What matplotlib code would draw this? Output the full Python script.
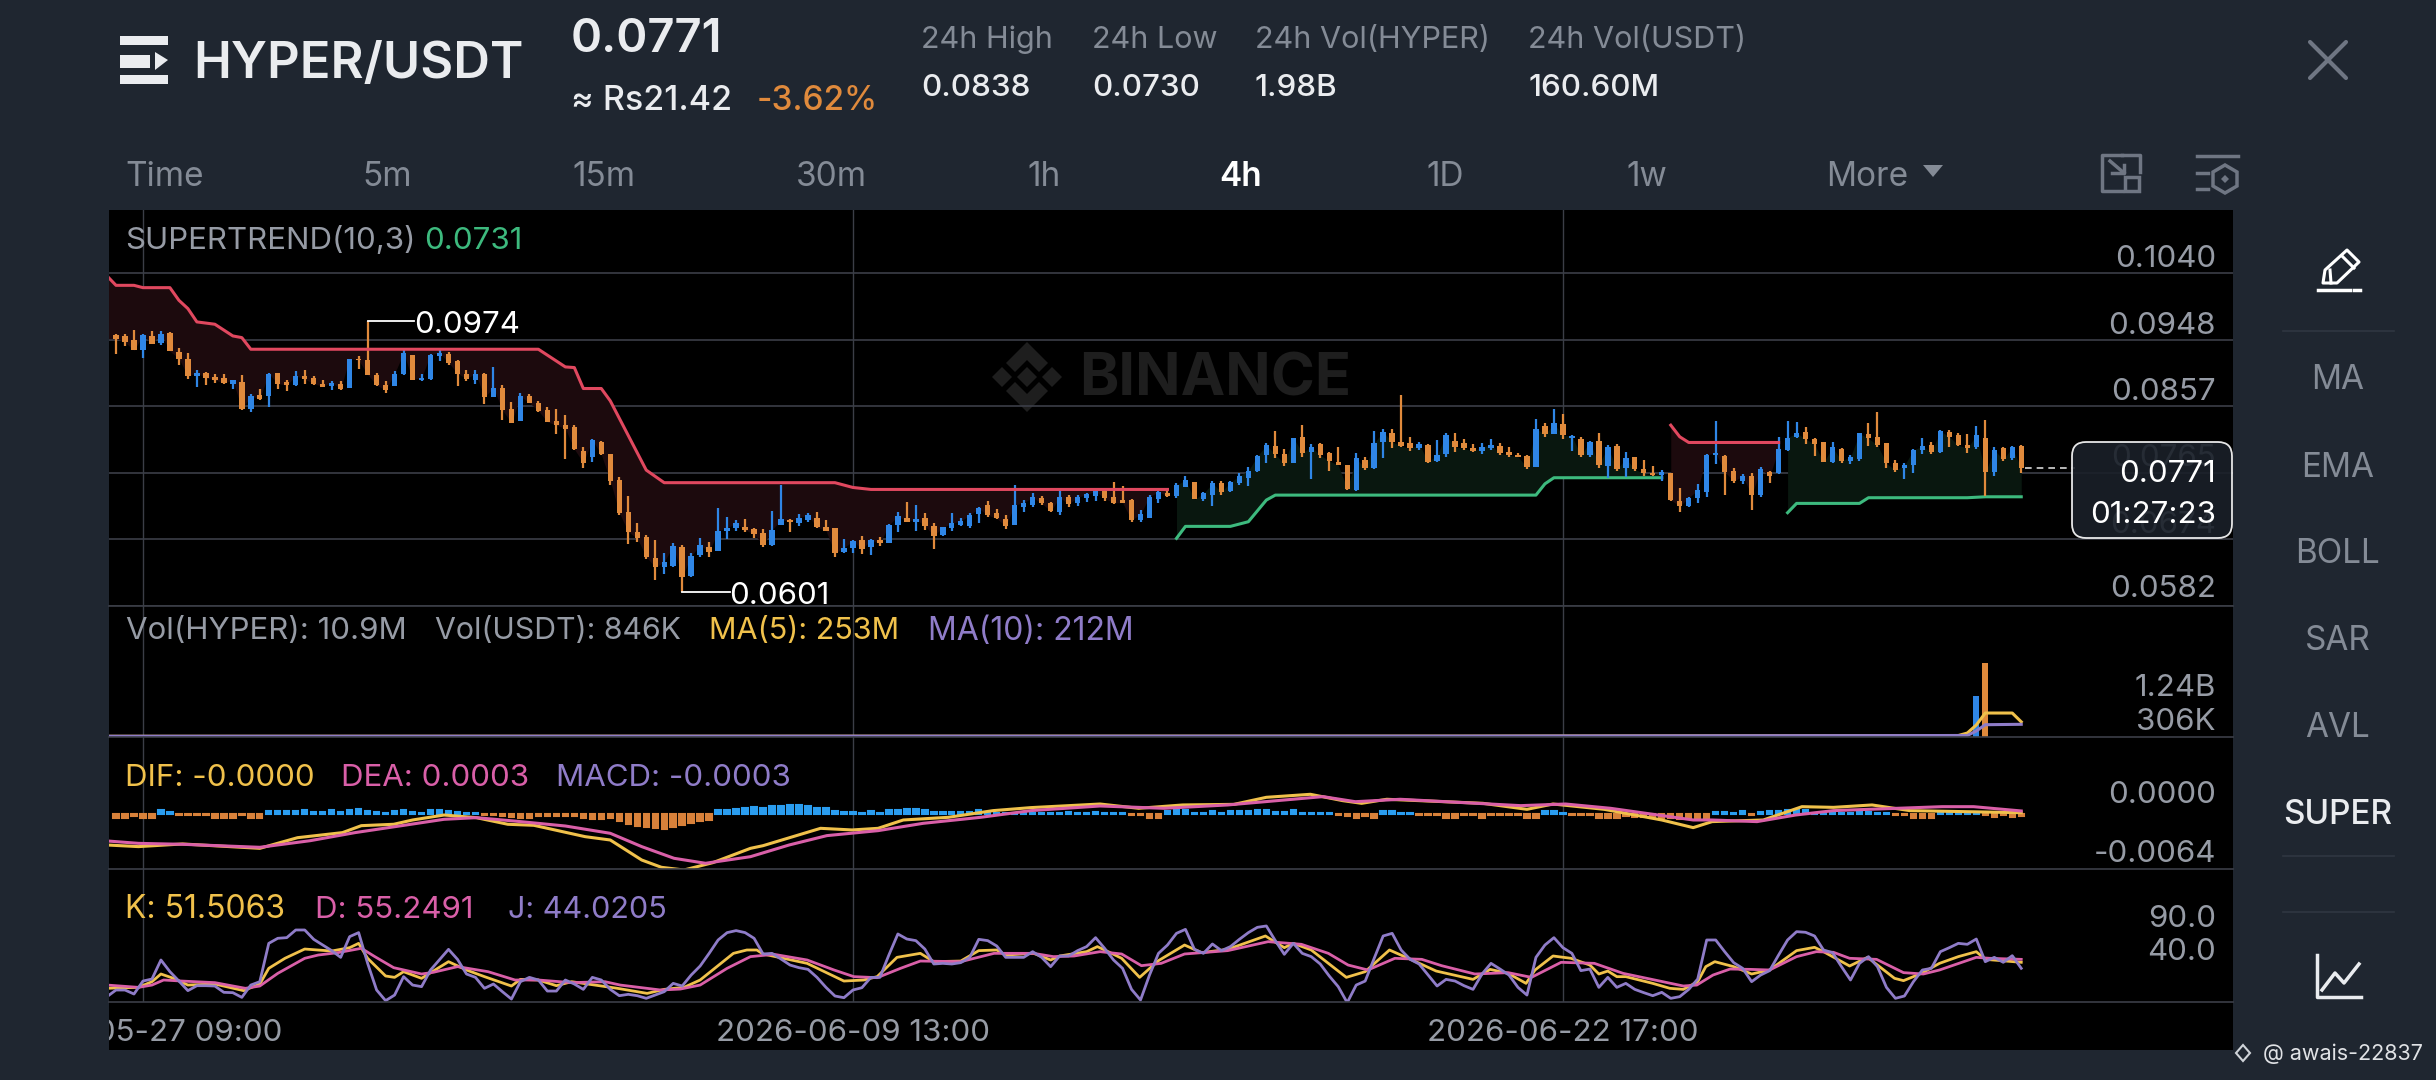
import matplotlib
matplotlib.use("Agg")
import matplotlib.pyplot as plt
from matplotlib.patches import FancyBboxPatch, Polygon, Rectangle
import numpy as np

plt.rcParams['font.family'] = ['Inter', 'DejaVu Sans']

# prices are in units of 0.0001
high = [955.7,955.7,962.1,955.7,960.3,960.3,958.9,937.4,930.1,906.3,
        904.0,901.7,901.7,893.4,900.3,874.2,881.1,902.6,903.0,892.5,
        905.4,906.3,898.0,893.4,891.1,891.6,922.3,926.0,974.0,903.0,
        891.6,904.9,933.7,927.8,901.7,929.2,933.7,931.4,920.0,906.3,
        906.3,903.0,910.8,885.7,862.8,875.1,874.2,864.1,855.9,853.6,
        844.4,830.7,800.9,811.0,808.7,790.8,758.8,733.6,696.5,679.6,
        672.7,654.4,668.1,665.8,655.3,675.0,670.4,716.2,704.7,700.2,
        701.5,688.7,687.3,712.5,748.3,701.1,707.9,710.2,710.7,700.2,
        689.6,674.1,672.7,678.2,674.1,676.3,694.2,711.6,724.4,720.8,
        709.3,696.5,691.0,709.3,702.4,709.3,718.5,726.3,715.3,707.0,
        748.3,727.6,736.8,733.1,725.4,741.4,734.5,734.5,737.7,744.6,
        742.3,752.4,747.3,729.5,713.9,734.5,740.0,741.4,750.5,760.6,
        752.8,739.1,754.2,753.7,754.2,764.3,773.4,789.5,805.5,822.0,
        797.7,813.3,830.7,804.6,805.5,794.1,800.9,775.7,792.7,786.3,
        822.9,826.1,826.1,871.9,814.7,807.8,804.2,810.1,820.2,820.2,
        811.0,804.2,805.5,811.5,805.5,800.9,792.7,789.5,839.0,833.0,
        852.7,845.8,817.0,813.8,808.7,819.3,803.2,804.6,794.1,787.2,
        782.6,774.8,768.9,765.2,744.6,732.2,749.6,790.4,836.2,789.5,
        771.2,763.4,764.3,773.5,768.0,813.8,837.1,834.4,827.5,812.4,
        806.9,807.8,799.6,789.5,819.3,833.0,849.0,806.4,782.6,778.0,
        797.7,812.4,807.8,823.8,823.8,820.6,818.4,829.8,837.6,800.9,
        800.0,801.9,803.2]
body_top = [954.3,953.0,947.5,954.3,953.0,956.6,958.0,931.4,922.3,902.6,
            903.0,897.1,895.7,892.5,890.2,870.5,872.8,901.7,902.1,890.2,
            898.5,898.5,895.7,887.0,889.3,887.9,922.3,922.3,920.0,900.3,
            885.7,901.7,930.1,927.8,896.2,927.8,930.1,929.2,918.6,901.7,
            901.7,900.8,882.0,882.0,852.7,870.5,870.5,861.4,851.3,836.6,
            831.6,827.5,795.4,810.1,806.9,790.4,755.1,711.6,684.1,677.3,
            648.4,642.9,664.4,663.5,650.7,665.8,663.5,685.5,689.6,695.6,
            691.0,687.3,681.8,686.4,701.1,700.2,703.4,707.0,702.4,690.1,
            688.7,662.2,671.3,672.7,672.7,672.7,693.3,705.7,702.4,701.5,
            702.4,691.9,690.1,695.6,698.8,707.0,716.2,720.8,709.3,701.1,
            720.8,724.0,731.3,729.9,723.1,731.3,731.3,731.3,735.4,740.0,
            740.0,731.3,727.6,727.6,708.4,732.2,739.1,737.7,748.3,755.1,
            751.9,736.8,750.5,750.5,751.9,761.1,767.9,788.1,803.2,801.8,
            790.4,813.3,814.7,800.9,804.2,791.8,780.3,775.7,784.9,782.6,
            806.4,821.5,819.3,807.8,806.4,804.6,803.2,789.5,817.0,808.7,
            806.4,798.7,800.9,803.2,801.9,794.1,789.5,788.6,826.1,829.3,
            833.0,832.1,815.6,811.5,807.8,808.7,800.9,801.9,784.9,786.3,
            770.3,765.2,766.6,764.3,726.7,730.9,741.4,789.5,792.7,788.6,
            768.0,760.6,760.6,770.3,765.7,797.3,813.3,820.2,821.5,811.0,
            806.9,800.0,797.7,787.2,819.3,817.9,813.8,805.5,779.0,775.7,
            796.4,801.9,803.2,822.5,821.5,817.0,803.2,817.0,812.4,796.4,
            798.7,800.0,801.9]
body_bottom = [949.8,944.7,933.7,934.7,942.9,943.8,932.4,922.3,898.0,898.0,
               895.7,892.5,888.9,887.9,853.1,853.6,867.3,870.5,887.9,885.7,
               886.6,893.9,887.9,883.8,884.7,881.1,882.0,920.0,900.3,885.7,
               878.8,884.7,900.8,893.4,892.5,894.8,926.4,916.8,901.7,894.8,
               893.4,869.6,869.6,851.3,833.9,836.6,861.4,850.4,835.3,830.7,
               826.1,797.7,778.9,787.2,790.4,754.2,710.2,684.1,675.0,649.8,
               635.1,635.1,636.9,622.3,623.2,652.0,656.6,658.0,685.0,688.7,
               686.4,680.9,665.8,665.8,693.3,697.9,695.6,700.2,690.1,685.5,
               654.4,656.6,661.2,659.9,663.5,668.1,669.0,693.3,697.9,697.9,
               692.4,678.6,679.6,688.7,693.3,691.9,708.4,707.0,702.4,691.9,
               693.3,717.6,720.8,723.1,712.5,711.6,722.1,723.1,729.9,733.1,
               729.9,724.0,724.0,700.2,700.2,703.4,728.6,733.1,733.1,745.9,
               728.6,728.6,734.5,739.1,740.0,750.5,757.4,767.9,789.5,790.4,
               778.0,778.0,792.7,794.1,789.5,781.7,775.7,742.8,741.4,771.2,
               771.2,807.8,807.8,801.9,798.7,798.7,780.3,781.7,790.4,800.9,
               798.7,795.0,795.0,798.7,791.8,789.5,787.2,772.5,773.5,817.9,
               817.9,817.0,813.3,789.5,789.5,775.7,774.4,769.8,771.2,769.8,
               764.3,762.0,762.0,727.7,719.4,719.4,730.9,739.1,789.5,766.6,
               753.8,754.2,734.5,734.5,760.6,764.3,796.4,814.7,811.5,804.6,
               779.4,780.3,781.7,781.7,783.5,812.4,803.2,778.0,768.9,771.2,
               775.7,796.4,793.2,794.1,814.7,803.2,798.7,800.0,765.7,765.7,
               783.5,784.9,771.2]
low = [929.2,939.2,933.7,923.7,942.9,941.5,932.4,913.1,894.8,883.4,
       886.6,889.3,887.9,880.2,852.2,849.0,865.0,855.9,881.1,877.9,
       885.2,887.0,885.7,883.4,878.8,878.8,882.0,907.6,899.4,884.3,
       875.1,884.3,900.3,893.4,891.1,893.4,919.1,913.1,884.7,891.1,
       887.9,859.5,869.6,837.6,833.0,836.6,860.5,849.0,834.4,818.3,
       784.0,797.2,771.2,779.4,789.5,748.3,707.0,667.2,670.4,646.1,
       617.7,626.0,635.1,601.0,622.3,649.8,648.9,658.0,673.6,685.5,
       684.1,675.0,663.5,664.9,693.3,684.1,692.4,697.0,689.6,685.5,
       648.9,655.3,654.4,653.4,652.0,664.4,668.1,684.1,697.0,685.5,
       686.4,660.8,678.6,685.5,692.4,689.6,696.5,704.7,701.1,687.8,
       693.3,711.6,717.6,720.8,711.6,707.0,717.6,719.4,724.4,726.3,
       726.7,722.1,723.1,697.9,697.9,703.4,724.0,732.2,729.9,745.0,
       728.6,726.7,719.8,734.5,739.1,748.3,746.9,766.6,778.0,784.9,
       774.4,778.0,787.2,756.5,784.9,768.0,775.7,741.4,740.5,768.9,
       770.3,784.9,799.6,800.0,795.4,796.4,779.0,779.4,786.3,794.1,
       796.4,793.2,790.9,796.4,789.5,787.2,786.3,769.8,773.5,813.8,
       817.9,811.0,795.0,787.2,786.3,771.2,757.4,768.0,758.8,768.0,
       760.6,760.6,754.2,726.7,711.6,718.5,723.1,731.3,777.1,734.5,
       751.5,749.6,713.9,731.3,750.6,763.4,795.4,813.3,804.6,788.1,
       779.4,779.0,778.0,777.1,781.7,801.9,800.9,772.1,766.6,756.5,
       765.2,790.9,790.9,791.8,800.9,801.9,792.7,797.3,733.2,761.1,
       781.7,782.6,764.3]
# u = blue candle, d = orange candle
side = ("dddududddu" "dddudududd" "udddududdd" "duuduuuddd" "ududdudddd"
        "dddudddddd" "duuduuduuu" "ddduuduudd" "duududuudu" "dduuuuuddd"
        "uuudduduuu" "dddduuuduu" "duuduuuuud" "dududdddud" "uuddduduud"
        "dduuddddud" "ududududud" "ddudduuuud" "dududuuudd" "duduuddddu"
        "uududddudu" "dud")

# supertrend line vertices (candle index, price)
st_red_a_x = [-1, 0, 2, 3, 6, 7, 8, 9, 11, 13, 14, 15, 47, 50, 51, 52, 54, 55, 59, 61, 80, 82, 84, 117]
st_red_a_y = [1035.9, 1023.0, 1023.0, 1019.8, 1019.8, 1002.4, 991.0, 972.7, 969.5, 953.4, 951.1, 935.1,
              935.1, 910.8, 909.9, 881.1, 881.1, 864.1, 768.9, 751.6, 751.6, 745.0, 742.3, 742.3]
st_green_a_x = [118, 119, 124, 126, 128, 129, 158, 159, 160, 172]
st_green_a_y = [675.0, 691.5, 691.5, 697.9, 727.7, 734.5, 734.5, 750.0, 758.4, 758.4]
st_red_b_x = [173, 174, 175, 185]
st_red_b_y = [830.7, 814.7, 806.9, 806.9]
st_green_b_x = [186, 187, 194, 195, 206, 208, 212]
st_green_b_y = [710.3, 723.1, 723.1, 730.9, 730.9, 732.2, 732.2]

price_ticks = [1040, 948, 857, 765, 674, 582]
price_tick_labels = ['0.1040', '0.0948', '0.0857', '0.0765', '0.0674', '0.0582']

# volume in billions
vol_idx = [195, 200, 202, 203, 207, 208]
vol_val = [0.04, 0.04, 0.04, 0.05, 0.68, 1.24]
vol_side = ['d', 'u', 'd', 'u', 'u', 'd']
ma5_x = [-1, 150, 205, 206, 207, 208, 211, 212]
ma5_y = [0.012, 0.015, 0.025, 0.066, 0.2, 0.40, 0.40, 0.253]
ma10_x = [-1, 150, 206, 207, 208, 212]
ma10_y = [0.012, 0.015, 0.025, 0.1, 0.205, 0.212]

# MACD, units of 0.0001
macd_hist = [-3.9,-3.9,-1.6,-4.7,-4.7,5.4,2.3,-1.2,-1.2,-1.2,-1.2,-3.9,-3.9,-3.9,-1.2,-3.9,-3.9,
             3.5,3.5,3.9,4.3,5.0,2.7,3.1,4.7,3.1,5.4,6.2,3.9,2.7,1.9,3.5,5.0,3.1,1.9,4.7,5.4,3.9,2.7,1.9,1.6,
             -1.2,-1.2,-1.6,-3.1,-4.7,-4.7,-1.6,-1.6,-1.6,-1.9,-2.3,-4.7,-5.0,-5.0,-4.7,-7.8,-10.9,-13.2,-14.7,
             -16.3,-17.1,-14.7,-12.4,-10.1,-7.8,-6.2,
             5.4,4.7,5.8,7.8,8.5,7.8,9.3,10.1,10.9,10.9,9.7,7.8,7.8,3.9,3.1,2.3,1.9,3.9,1.9,4.7,5.4,5.8,5.8,4.7,
             2.7,2.3,2.3,2.3,2.7,4.7,3.1,1.6,1.2,
             1.6,1.2,1.2,1.2,1.2,1.2,2.3,1.6,1.6,3.1,
             1.6,1.2,1.2,-1.2,-1.2,-4.7,-4.7,3.9,4.7,4.7,1.6,1.6,3.9,1.6,3.9,3.9,3.9,4.7,5.4,2.3,2.3,5.4,
             1.6,1.6,1.2,1.2,-1.2,-1.6,-3.9,-1.6,-3.9,3.9,3.9,1.2,1.2,-1.2,-1.2,-1.2,-3.9,-3.9,-1.2,-1.2,-3.9,
             -1.2,-1.2,-1.2,-1.2,-3.9,-3.9,3.9,3.9,1.2,-1.2,-1.2,-1.2,-4.7,-4.7,-3.9,
             -1.9,-3.1,-3.1,-3.9,-3.9,-4.7,-5.4,-5.4,-5.4,-4.7,3.1,3.1,1.2,3.9,-1.2,3.1,3.5,3.9,5.4,5.4,4.7,
             1.2,1.2,1.2,1.2,1.2,3.1,3.1,1.2,1.2,-1.2,-1.2,-3.9,-3.9,-3.9,3.1,3.1,1.2,1.2,3.1,
             -1.2,-3.1,-1.2,-3.1,-1.6]
dea_x = [-1, 2.5, 7.4, 16, 21.6, 26.6, 32.3, 36.5, 40.1, 44.3, 50, 55, 58.5, 62.1, 65.6, 70.6, 74.9, 79.1, 84.8, 89.8,
         96.2, 101.8, 109.5, 116.6, 123.7, 134.3, 137.9, 142.9, 156.3, 161.3, 166.3, 175.5, 177.6, 182.6, 186.9, 191.1,
         198.2, 203.2, 206.7, 212]
dea_y = [-31.0, -33.8, -34.9, -38.4, -30.7, -21.3, -12.4, -5.8, -3.9, -7.8, -13.6, -22.1, -37.6, -51.2, -57, -49.3, -35.7,
         -24.8, -19, -10.5, -3.5, 4.3, 9.7, 7, 10.9, 20.6, 14.7, 17.5, 10.1, 12, 7, -6.6, -6.6, -8.5, -0.8, 4.3, 7, 8.9, 8.9, 3.9]
dif_x = [-1, 2.5, 7.4, 16, 20.2, 25.2, 27.3, 30.9, 33, 36.5, 40.1, 43.6, 46.5, 52.2, 55, 58.5, 60.7, 63.2, 66.4, 70.6, 72,
         78.4, 81.9, 84.8, 87.6, 92.6, 97.6, 101.8, 109.5, 113.8, 118.7, 124.4, 128, 132.9, 136.5, 138.6, 141.4, 152.1,
         157, 159.9, 165.6, 172, 175.5, 177.6, 183.3, 187.6, 191.1, 195.4, 199.6, 212]
dif_y = [-35.7, -37.6, -34.5, -39.6, -27.2, -21.3, -13.2, -11.6, -6.6, -0.8, -3.9, -11.6, -12.8, -26, -29.9, -53.2, -61.7,
         -64.8, -56.3, -39.6, -36.5, -16.3, -18.2, -16.3, -6.6, -3.5, 4.3, 7.8, 12, 7, 10.9, 11.6, 19.8, 23.3, 15.9, 12.8,
         17.5, 12.8, 5.8, 12, 5.8, -6.6, -15.5, -8.5, -6.6, 8.9, 8.1, 10.9, 4.3, 1.9]

# KDJ, the first point is the candle just off the left edge
j_line = [8.6,16.9,16.9,11.9,28.1,30.6,54.4,39.8,28.1,16.1,22.3,
          22.3,21.9,14,13.6,7.7,23.1,27.3,75.2,81.5,82.3,
          91.9,91.9,80.2,73.1,66.1,57.7,83.6,88.6,50.2,16.9,
          3.6,10.6,33.6,23.1,21.1,41.9,54.8,67.7,55.2,36.9,
          32.7,19,24.4,14.8,5.6,27.3,32.7,29.4,15.6,15.6,
          29.4,24.4,17.7,32.7,29.4,17.7,9.8,11.5,9.8,6.5,
          10.6,14.8,25.2,21.9,35.6,46.9,62.7,79.4,88.6,91.1,
          88.6,81.5,61.9,62.7,55.6,48.1,44.8,42.7,32.7,20.2,
          9.4,7.3,16.9,19.8,32.7,32.7,60.6,86.9,80.6,78.6,
          68.1,49.4,50.2,49.4,51.1,57.7,80.2,78.6,71.9,57.7,
          57.7,57.7,64.8,57.7,46.1,59.4,59.4,66.1,71.1,82.3,
          69,54.4,44,17.7,4.4,35.6,62.7,73.1,87.7,92.7,
          67.7,62.7,74.4,66.1,71.1,80.2,88.6,95.2,96.9,78.6,
          61.5,75.2,62.7,58.6,49.4,34.4,21.1,1.1,23.1,28.1,
          56.5,84.4,87.7,66.9,55.2,49.4,35.6,21.9,30.2,28.1,
          22.3,17.7,36.9,50.2,43.1,35.6,20.2,10.6,57.7,73.1,
          82.3,69.8,62.7,41.1,43.1,20.2,32.7,20.2,25.2,17.7,
          13.6,9.8,14,6.5,8.6,17.7,30.6,79.4,79.4,64.8,
          51.1,44,27.3,35.6,41.1,60.6,79.4,89.8,89,84.4,
          66.9,63.6,46.1,29.4,50.2,58.6,46.1,20.2,6.5,9.4,
          27.3,41.9,44,64.8,69.8,75.2,74,80.6,52.3,57.7,
          51.5,59.8,44.0]
k_x = [-1, 0, 2.5, 4, 5, 6.4, 8, 11, 14.2, 16, 17, 18.8, 21, 24, 26, 27, 28, 30, 31, 32, 34, 37, 39, 41, 44, 45, 47, 49, 50.7,
       55.8, 59.1, 61, 63.2, 65, 68.7, 70.2, 71.3, 72, 76.9, 81, 83.2, 84.7, 86.9, 89.5, 91, 94, 96, 98, 99, 102.1, 104, 105,
       108, 109.2, 110.4, 111.9, 113.9, 116, 118.9, 120.8, 123.7, 127.9, 128.9, 130, 131, 133, 136.9, 139, 141.7, 143.8,
       146.9, 151, 152.9, 154.9, 156.9, 157.9, 159.9, 161.9, 164, 165, 166, 167, 168, 171, 172.9, 174.4, 176, 176.9, 177.9,
       180, 182, 184, 187, 189, 190, 192.9, 194.9, 197.9, 198.9, 200.9, 202.9, 205, 207, 208, 212]
k_y = [19, 19.5, 20.2, 27.3, 36.9, 31.5, 23.1, 24.4, 16.1, 24.4, 44, 56.5, 68.1, 65.6, 69.8, 75.2, 56.5, 34.4, 32.7, 39.8, 31.5,
       52.3, 41.9, 33.6, 21.9, 30.2, 29.4, 22.3, 27.3, 19, 12.7, 17.7, 20.2, 29.4, 62.7, 66.9, 66.9, 61.9, 50.2, 28.1, 29.4,
       33.6, 57.7, 62.7, 52.3, 53.1, 66.1, 66.9, 60.6, 62.7, 54.4, 59.4, 64.8, 71.1, 64.8, 56.5, 32.7, 53.6, 73.1, 63.6, 67.7,
       84.4, 77.3, 69.8, 75.2, 66.9, 32.7, 39.8, 66.9, 56.5, 40.6, 30.2, 42.7, 37.7, 25.2, 41.9, 59.4, 56.5, 48.1, 36.9, 40.6,
       33.6, 33.6, 25.2, 19, 17.7, 27.3, 46.1, 52.3, 46.1, 36.9, 41.9, 66.1, 70.2, 64.8, 46.9, 57.7, 31.5, 28.6, 37.7, 50.2,
       58.6, 64.8, 55.2, 51.5]
d_x = [-1, 2.5, 4, 5.3, 7.3, 11, 14.4, 16, 18, 21, 22.5, 24.7, 27.3, 28.8, 30.9, 34, 35.3, 38, 41.4, 44.4, 47, 50.7, 54.4, 56.1,
       60.6, 62.8, 65, 68, 70.6, 73.2, 76.9, 79.9, 82.1, 84.7, 87.3, 89.5, 94, 97.7, 102.1, 104.3, 106.6, 109.5, 111.9, 114.1,
       116.3, 118.9, 123.7, 128.2, 131.9, 134.9, 137.1, 139.3, 142.3, 145.3, 147.5, 151.2, 154.9, 157.5, 160.8, 164.5, 167.7,
       174.4, 175.9, 177.7, 179.6, 181.8, 184, 187, 189.2, 191.1, 192.9, 195.9, 198.9, 201.1, 202.9, 207, 208.5, 212]
d_y = [23.1, 20.2, 23.1, 29.4, 28.1, 26.1, 19, 21.9, 37.7, 56.5, 60.6, 63.6, 69, 58.6, 44.8, 36.9, 39, 46.1, 39.8, 29.4, 29.4,
       26.1, 27.3, 23.1, 16.9, 18.1, 23.1, 44, 58.6, 61.5, 54.4, 41.9, 33.6, 32.3, 44, 53.1, 52.3, 62.7, 62.7, 58.6, 59.4, 64.8,
       61.9, 47.3, 50.2, 61.9, 66.1, 77.3, 74, 62.7, 48.1, 41.9, 56.5, 55.2, 47.3, 36.9, 38.6, 32.7, 51.5, 50.2, 37.7, 21.9, 23.1,
       35.6, 43.1, 42.7, 41.9, 58.6, 64.8, 64, 56.5, 55.2, 38.6, 36.9, 41.9, 57.7, 56.5, 55.2]

BG = '#1f2630'
GRID = '#3b3e47'
BLUE = '#2f86e6'
ORANGE = '#e08a3c'
RED = '#e0485f'
GREEN = '#3dba7e'
YELLOW = '#f0c14b'
PINK = '#d95fa8'
PURPLE = '#8f7cc8'
GREY = '#969ba5'
TAB = '#848b96'
W = 2436
H = 1080
LEFT = 108.5
RIGHT = 2233
SIZE = 22.5


def panel(top, bottom, ylim):
    ax = fig.add_axes([LEFT / W, 1 - bottom / H, (RIGHT - LEFT) / W, (bottom - top) / H], zorder=1)
    ax.patch.set_alpha(0)
    ax.set_xlim((LEFT - 116) / 8.987, (RIGHT - 116) / 8.987)
    ax.set_ylim(*ylim)
    ax.set_xticks([3, 82, 161])
    ax.set_yticks([])
    ax.tick_params(length=0, labelbottom=False, labelleft=False)
    ax.grid(axis='x', color=GRID, lw=1)
    ax.set_axisbelow(True)
    for s in ['top', 'left', 'right']:
        ax.spines[s].set_visible(False)
    ax.spines['bottom'].set_color(GRID)
    ax.spines['bottom'].set_linewidth(1.2)
    return ax


def label(x, y, s, size=SIZE, color=GREY, weight='normal', ha='left', **kw):
    return ui.text(x, y + 3, s, fontsize=size, color=color, fontweight=weight, ha=ha, va='center', **kw)


fig = plt.figure(figsize=(W / 100, H / 100), dpi=100, facecolor=BG)

# black panel + watermark go under the chart axes
back = fig.add_axes([0, 0, 1, 1], zorder=0)
back.set_xlim(0, W)
back.set_ylim(H, 0)
back.axis('off')
back.add_patch(Rectangle((LEFT, 210), RIGHT - LEFT, 840, color='black', lw=0))
WM = '#1e1e1e'
cx, cy = 1027, 377
for dx in [-25, 0, 25]:
    back.add_patch(Polygon([(cx + dx - 10, cy), (cx + dx, cy - 10), (cx + dx + 10, cy), (cx + dx, cy + 10)], color=WM, lw=0))
for sgn in [-1, 1]:
    back.add_patch(Polygon([(cx, cy + sgn * 35), (cx + 21, cy + sgn * 14), (cx + 12, cy + sgn * 5), (cx, cy + sgn * 17),
                            (cx - 12, cy + sgn * 5), (cx - 21, cy + sgn * 14)], color=WM, lw=0))
back.text(1079, 380, 'BINANCE', fontsize=43, fontweight='bold', color=WM, va='center', ha='left')

ax_price = panel(210, 606, (582.1, 1126.6))
ax_vol = panel(606, 737, (0, 2.186))
ax_macd = panel(737, 869.3, (-64, 90))
ax_kdj = panel(869.3, 1001.7, (2.3, 167.7))

idx = np.arange(len(high))
high = np.array(high)
low = np.array(low)
body_top = np.array(body_top)
body_bottom = np.array(body_bottom)
is_up = np.array([c == 'u' for c in side])
close = np.where(is_up, body_top, body_bottom)
colors = [BLUE if u else ORANGE for u in is_up]

# supertrend shading between the line and the close
for xs, ys, col in [(st_red_a_x, st_red_a_y, '#1c0a0d'), (st_green_a_x, st_green_a_y, '#09170f'),
                    (st_red_b_x, st_red_b_y, '#1c0a0d'), (st_green_b_x, st_green_b_y, '#09170f')]:
    seg = idx[(idx >= max(xs[0], 0)) & (idx <= xs[-1])]
    seg_x = seg
    seg_low = close[seg]
    if xs[0] < 0:
        seg_x = np.r_[xs[0], seg]
        seg_low = np.r_[close[0], close[seg]]
    ax_price.fill_between(seg_x, np.interp(seg_x, xs, ys), seg_low, color=col, lw=0, zorder=1)

ax_price.set_yticks(price_ticks)
ax_price.grid(axis='y', color=GRID, lw=1.2)
ax_price.vlines(idx, low, high, colors=colors, lw=1.6, zorder=3)
ax_price.bar(idx, body_top - body_bottom, bottom=body_bottom, width=0.6, color=colors, lw=0, zorder=3)

ax_price.plot(st_red_a_x, st_red_a_y, color=RED, lw=2.2, zorder=4)
ax_price.plot(st_red_b_x, st_red_b_y, color=RED, lw=2.2, zorder=4)
ax_price.plot(st_green_a_x, st_green_a_y, color=GREEN, lw=2.2, zorder=2)
ax_price.plot(st_green_b_x, st_green_b_y, color=GREEN, lw=2.2, zorder=2)

# high / low markers and last price
ax_price.plot([28, 33.2], [974.0, 974.0], color='white', lw=1.3, zorder=5)
ax_price.plot([63, 68.3], [601.0, 601.0], color='white', lw=1.3, zorder=5)
ax_price.plot([212.4, 218], [close[-1], close[-1]], color='#d8d8d8', lw=1.2, ls=(0, (4, 3)), zorder=5)

ax_vol.bar(vol_idx, vol_val, width=0.65, color=[BLUE if s == 'u' else ORANGE for s in vol_side], lw=0)
ax_vol.plot(ma5_x, ma5_y, color=YELLOW, lw=2.2)
ax_vol.plot(ma10_x, ma10_y, color=PURPLE, lw=2.2)

hist = np.array(macd_hist)
hist_colors = ['#2a9df0' if v > 0 else '#d8813a' for v in hist]
ax_macd.bar(idx, hist, width=0.6, color=hist_colors, edgecolor=hist_colors, lw=1.5)
ax_macd.plot(dif_x, dif_y, color=YELLOW, lw=2.2)
ax_macd.plot(dea_x, dea_y, color=PINK, lw=2.2)

ax_kdj.plot(k_x, k_y, color=YELLOW, lw=2.0)
ax_kdj.plot(d_x, d_y, color=PINK, lw=2.0)
ax_kdj.plot(np.r_[-1, idx], j_line, color=PURPLE, lw=2.0)

# everything else is placed in pixels on a top layer
ui = fig.add_axes([0, 0, 1, 1], zorder=2)
ui.set_xlim(0, W)
ui.set_ylim(H, 0)
ui.axis('off')

label(125, 238, 'SUPERTREND(10,3)', color=GREY)
label(424, 238, '0.0731', color=GREEN)
label(414, 322, '0.0974', color='white')
label(729, 593, '0.0601', color='white')

for y, s in zip([256, 323, 389, 455, 522, 586], price_tick_labels):
    label(2216, y, s, ha='right')

# the tag sits over the 0.0765 and 0.0674 labels, which show through faintly
ui.add_patch(FancyBboxPatch((2080, 450), 144, 80, boxstyle='round,pad=8,rounding_size=14',
                            fc='#1a2029', ec='white', lw=1.3, alpha=0.9, zorder=4))
label(2216, 471, '0.0771', color='white', ha='right', zorder=5)
label(2216, 512, '01:27:23', color='white', ha='right', zorder=5)

label(126, 628, 'Vol(HYPER): 10.9M')
label(435, 628, 'Vol(USDT): 846K', size=21.8)
label(709, 628, 'MA(5): 253M', color=YELLOW, size=22)
label(928, 628, 'MA(10): 212M', color=PURPLE, size=23)
label(2216, 685, '1.24B', ha='right')
label(2216, 719, '306K', ha='right')

label(125, 775, 'DIF: -0.0000', color=YELLOW)
label(341, 775, 'DEA: 0.0003', color=PINK)
label(556, 775, 'MACD: -0.0003', color=PURPLE)
label(2216, 792, '0.0000', ha='right')
label(2216, 851, '-0.0064', ha='right')

label(125, 907, 'K: 51.5063', color=YELLOW, size=23)
label(315, 907, 'D: 55.2491', color=PINK)
label(508, 907, 'J: 44.0205', color=PURPLE, size=22)
label(2216, 916, '90.0', ha='right')
label(2216, 949, '40.0', ha='right')

clip = Rectangle((LEFT, 1002), RIGHT - LEFT, 48, transform=ui.transData)
t = label(143, 1030, '2026-05-27 09:00', ha='center')
t.set_clip_path(clip)
t.set_clip_on(True)
label(853, 1030, '2026-06-09 13:00', ha='center')
label(1563, 1030, '2026-06-22 17:00', ha='center')

# header
WHITE = '#eaecef'
for y0, y1 in [(36, 45), (75, 84)]:
    ui.add_patch(Rectangle((120, y0), 48, y1 - y0, color=WHITE, lw=0))
ui.add_patch(Rectangle((120, 55), 30, 13, color=WHITE, lw=0))
ui.add_patch(Polygon([(155, 52), (168, 60), (155, 70)], color=WHITE, lw=0))
label(193, 62, 'HYPER/USDT', size=36.5, color=WHITE, weight='semibold')
label(571, 37, '0.0771', size=34, color=WHITE, weight='semibold')
label(571, 98, '≈ Rs21.42', size=24.5, color=WHITE, weight='medium')
label(757, 98, '-3.62%', size=24, color=ORANGE, weight='medium')

for x, head, val in [(921, '24h High', '0.0838'), (1092, '24h Low', '0.0730'),
                     (1255, '24h Vol(HYPER)', '1.98B'), (1528, '24h Vol(USDT)', '160.60M')]:
    label(x, 37, head, size=22, color=TAB)
    label(x, 85, val, size=22.6, color=WHITE, weight='medium')

for x, s in [(165, 'Time'), (387, '5m'), (604, '15m'), (831, '30m'), (1044, '1h'),
             (1445, '1D'), (1647, '1w'), (1867, 'More')]:
    label(x, 174, s, size=24, color=TAB, ha='center')
label(1241, 174, '4h', size=24, color='white', weight='semibold', ha='center')
ui.add_patch(Polygon([(1923, 165), (1943, 165), (1933, 177)], color=TAB, lw=0))

# right hand icons
ICON = '#6f7683'
ui.plot([2310, 2346], [42, 78], color=ICON, lw=3, solid_capstyle='round')
ui.plot([2346, 2310], [42, 78], color=ICON, lw=3, solid_capstyle='round')
ui.plot([2122, 2102, 2102, 2122], [154.5, 154.5, 191, 191], color=ICON, lw=2.5)
ui.plot([2122, 2140, 2140], [154.5, 154.5, 172], color=ICON, lw=2.5)
ui.add_patch(Rectangle((2125, 177), 14, 14, fc='none', ec=ICON, lw=2.5))
ui.plot([2110, 2124], [161, 173], color=ICON, lw=2.5)
ui.plot([2112, 2124, 2124], [173, 173, 165], color=ICON, lw=2.5)
ui.plot([2197, 2238], [156, 156], color=ICON, lw=2.5)
ui.plot([2197, 2208], [173, 173], color=ICON, lw=2.5)
ui.plot([2197, 2208], [189, 189], color=ICON, lw=2.5)
ui.add_patch(Polygon([(2225, 165), (2237, 172), (2237, 186), (2225, 193), (2213, 186), (2213, 172)], fc='none', ec=ICON, lw=2.5))
ui.add_patch(Polygon([(2225, 175), (2229, 179), (2225, 183), (2221, 179)], color=ICON, lw=0))

ui.add_patch(Polygon([(2325, 270), (2347, 250), (2359, 262), (2337, 283), (2323, 283)], fc='none', ec='white', lw=2.2, joinstyle='round'))
ui.plot([2342, 2354], [256, 268], color='white', lw=2.2)
ui.plot([2330, 2331], [270, 283], color='white', lw=2.2)
ui.plot([2318, 2350], [290, 290], color='white', lw=2.5)
ui.plot([2354, 2360], [290, 290], color='white', lw=2.5)

for y in [331, 856, 912]:
    ui.plot([2283, 2394], [y, y], color='#2f3641', lw=1.2)
for y, s in [(377, 'MA'), (465, 'EMA'), (551, 'BOLL'), (638, 'SAR'), (725, 'AVL')]:
    label(2338, y, s, size=24, color=TAB, ha='center')
label(2338, 812, 'SUPER', size=24, color=WHITE, ha='center', weight='medium')
ui.plot([2317, 2317, 2361], [955, 997, 997], color=WHITE, lw=2.5)
ui.plot([2322, 2335, 2344, 2359], [990, 973, 983, 964], color=WHITE, lw=2.5)

ui.add_patch(Polygon([(2243, 1045), (2250, 1053), (2243, 1061), (2236, 1053)], fc='none', ec='#cfd3d8', lw=1.5))
label(2263, 1051, '@ awais-22837', size=15.5, color='#e0e2e5')

fig.savefig('out.png', dpi=100, facecolor=BG)
